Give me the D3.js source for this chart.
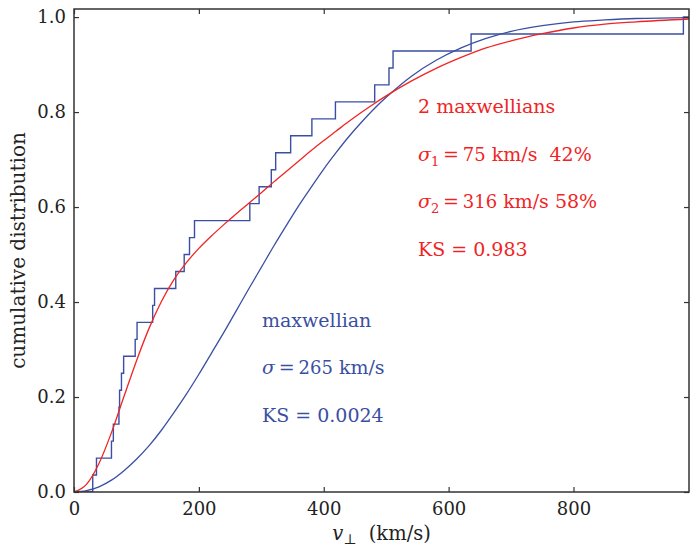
<!DOCTYPE html>
<html>
<head>
<meta charset="utf-8">
<script src="https://cdn.jsdelivr.net/npm/d3@7"></script>
<style>
  body { margin: 0; background: #fff; }
  svg { display: block; }
  text { white-space: pre; }
  .tick text { font-family: "DejaVu Serif", serif; font-size: 18px; fill: #222; }
</style>
</head>
<body>
<script>
// ---- data ----
// sorted v_perp samples (km/s), 28 events -> empirical CDF steps of 1/28
var samples = [30, 36, 60, 63, 72, 73, 76, 79.5, 98, 101, 126, 129, 163, 176.5,
  185, 193, 281.6, 296.5, 316, 323, 347, 381, 418.7, 481.6, 504.5, 511, 636, 976];

// fitted curves, read at these speeds
var vGrid = [0, 20, 40, 60, 80, 100, 120, 140, 160, 180, 200, 220, 240, 260, 280, 300,
  320, 340, 360, 380, 400, 420, 440, 460, 480, 500, 540, 580, 620, 660, 700, 750,
  800, 850, 900, 985];
// single maxwellian, sigma = 265
var cdfOne = [0, 0.003, 0.011, 0.025, 0.045, 0.069, 0.097, 0.130, 0.167, 0.206, 0.248,
  0.292, 0.336, 0.382, 0.428, 0.473, 0.518, 0.561, 0.603, 0.642, 0.680, 0.715, 0.748,
  0.778, 0.806, 0.831, 0.875, 0.909, 0.935, 0.955, 0.970, 0.982, 0.990, 0.994, 0.997, 0.999];
// two maxwellians, 75 km/s 42% + 316 km/s 58%
var cdfTwo = [0, 0.016, 0.060, 0.125, 0.201, 0.276, 0.344, 0.401, 0.447, 0.483, 0.513,
  0.539, 0.563, 0.586, 0.608, 0.630, 0.653, 0.675, 0.697, 0.719, 0.740, 0.760, 0.780,
  0.799, 0.817, 0.834, 0.865, 0.892, 0.915, 0.935, 0.950, 0.965, 0.977, 0.985, 0.990, 0.996];

var xTicks = [0, 200, 400, 600, 800];
var yTicks = [0, 0.2, 0.4, 0.6, 0.8, 1.0];

var blue = "#3a4fa3";
var red = "#f02424";

var W = 690, H = 547;
var margin = {left: 74, right: 1, top: 9, bottom: 55};
var iw = W - margin.left - margin.right;
var ih = H - margin.top - margin.bottom;

var x = d3.scaleLinear().domain([0, 985]).range([0, iw]);
var y = d3.scaleLinear().domain([0, 1.017]).range([ih, 0]);

var svg = d3.select("body").append("svg")
  .attr("width", W)
  .attr("height", H)
  .attr("font-family", "DejaVu Serif, serif");

var g = svg.append("g").attr("transform", "translate(" + margin.left + "," + margin.top + ")");

g.append("clipPath").attr("id", "clip")
  .append("rect").attr("width", iw).attr("height", ih);

var plot = g.append("g").attr("clip-path", "url(#clip)");

//// ECDF steps
var steps = [[0, 0]];
samples.forEach(function(v, i) { steps.push([v, (i + 1) / samples.length]); });
steps.push([985, 1]);

plot.append("path")
  .datum(steps)
  .attr("fill", "none")
  .attr("stroke", blue)
  .attr("stroke-width", 1.4)
  .attr("d", d3.line().x(d => x(d[0])).y(d => y(d[1])).curve(d3.curveStepAfter));

//// fitted curves
var curveLine = d3.line().x(d => x(d[0])).y(d => y(d[1])).curve(d3.curveMonotoneX);

plot.append("path")
  .datum(vGrid.map((v, i) => [v, cdfOne[i]]))
  .attr("fill", "none")
  .attr("stroke", blue)
  .attr("stroke-width", 1.3)
  .attr("d", curveLine);

plot.append("path")
  .datum(vGrid.map((v, i) => [v, cdfTwo[i]]))
  .attr("fill", "none")
  .attr("stroke", red)
  .attr("stroke-width", 1.3)
  .attr("d", curveLine);

//// axes (ticks pointing inward)
var ax = g.append("g").attr("transform", "translate(0," + ih + ")")
  .call(d3.axisBottom(x).tickValues(xTicks).tickFormat(d3.format("d")).tickSizeInner(-5).tickSizeOuter(0).tickPadding(10));
var axTop = g.append("g")
  .call(d3.axisTop(x).tickValues(xTicks).tickFormat("").tickSizeInner(-5).tickSizeOuter(0));
var ay = g.append("g")
  .call(d3.axisLeft(y).tickValues(yTicks).tickFormat(d3.format(".1f")).tickSizeInner(-5).tickSizeOuter(0).tickPadding(8));
var ayR = g.append("g").attr("transform", "translate(" + iw + ",0)")
  .call(d3.axisRight(y).tickValues(yTicks).tickFormat("").tickSizeInner(-5).tickSizeOuter(0));

[ax, axTop, ay, ayR].forEach(function(a) {
  a.select(".domain").remove();
  a.selectAll(".tick line").attr("stroke", "#333").attr("stroke-width", 1.2);
});

g.append("rect")
  .attr("width", iw).attr("height", ih)
  .attr("fill", "none")
  .attr("stroke", "#333")
  .attr("stroke-width", 1.5);

//// axis labels
var xl = svg.append("text")
  .attr("x", margin.left + iw / 2)
  .attr("y", 540)
  .attr("text-anchor", "middle")
  .attr("font-size", 19.5)
  .attr("fill", "#222");
xl.append("tspan").attr("font-style", "italic").text("v");
xl.append("tspan").attr("font-size", 14).attr("dy", 4).text("⊥");
xl.append("tspan").attr("dy", -4).text("  (km/s)");

svg.append("text")
  .attr("transform", "translate(25," + (margin.top + ih / 2) + ") rotate(-90)")
  .attr("text-anchor", "middle")
  .attr("font-size", 20)
  .attr("fill", "#222")
  .text("cumulative distribution");

//// annotations
function label(xp, yp, color, parts) {
  var t = svg.append("text").attr("x", xp).attr("y", yp)
    .attr("fill", color).attr("font-size", 19);
  parts.forEach(function(p) {
    var s = t.append("tspan").text(p.t);
    if (p.it) s.attr("font-style", "italic");
    if (p.fs) s.attr("font-size", p.fs);
    if (p.sub) s.attr("font-size", 13).attr("dy", 5);
    if (p.up) s.attr("dy", -5);
  });
}

var eq = "\u2009=\u2009";
label(418, 113, red, [{t: "2 maxwellians"}]);
label(418, 161, red, [{t: "σ", it: true}, {t: "1", sub: true}, {t: eq, up: true}, {t: "75", fs: 18}, {t: " km/s  42%"}]);
label(418, 208, red, [{t: "σ", it: true}, {t: "2", sub: true}, {t: eq, up: true}, {t: "316", fs: 18}, {t: " km/s 58%"}]);
label(418, 256, red, [{t: "KS = 0.983"}]);

label(262, 327, blue, [{t: "maxwellian"}]);
label(262, 374, blue, [{t: "σ", it: true}, {t: eq}, {t: "265", fs: 18}, {t: " km/s"}]);
label(262, 422, blue, [{t: "KS = 0.0024"}]);
</script>
</body>
</html>
